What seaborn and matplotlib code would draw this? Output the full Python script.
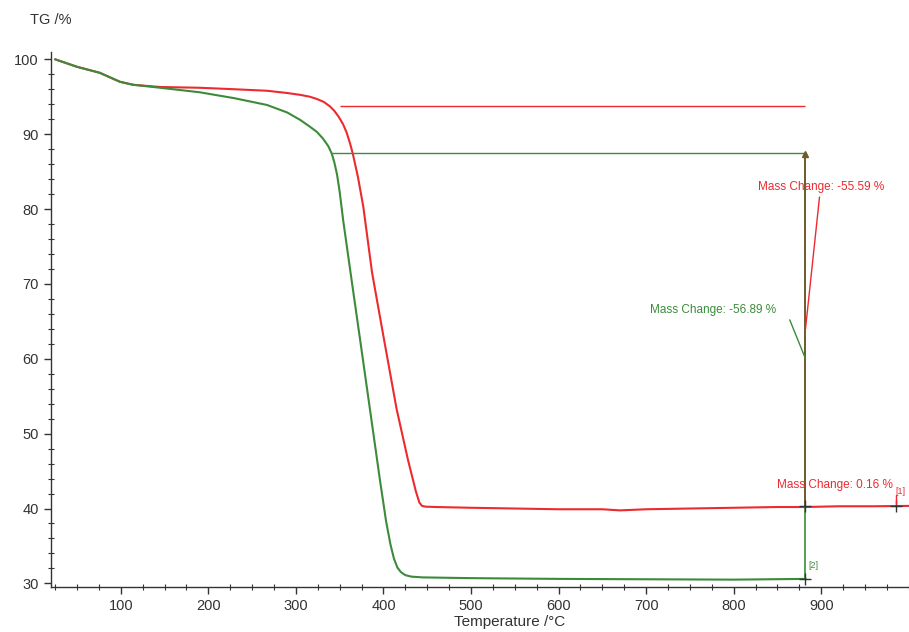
import matplotlib
matplotlib.use("Agg")
import matplotlib.pyplot as plt
from matplotlib.ticker import MultipleLocator
import pandas as pd
import seaborn as sns

# Кривая 1 (красная) — температура, °C и масса, %
temp_red = [25, 50, 76, 99, 114, 145, 190, 230, 267, 290, 305, 316, 324, 332,
            339, 344, 349, 354, 358, 362, 365, 371, 377, 387, 400, 415, 428,
            437, 441, 444, 448, 460, 500, 550, 600, 650, 670, 700, 750, 800,
            850, 882, 920, 960, 1000]
tg_red = [100.0, 99.0, 98.2, 97.0, 96.6, 96.3, 96.2, 96.0, 95.8, 95.5, 95.25,
          95.0, 94.7, 94.3, 93.7, 93.1, 92.3, 91.3, 90.2, 88.7, 87.4, 84.2,
          80.3, 71.5, 63.0, 53.3, 46.5, 42.3, 40.8, 40.35, 40.25, 40.2, 40.1,
          40.0, 39.9, 39.9, 39.75, 39.9, 40.0, 40.1, 40.2, 40.2, 40.3, 40.3,
          40.35]

# Кривая 2 (зелёная)
temp_green = [25, 50, 76, 99, 114, 145, 190, 230, 267, 290, 305, 316, 324, 331,
              337, 341, 344, 347, 350, 354, 364, 374, 385, 396, 403, 408, 412,
              416, 420, 425, 432, 445, 500, 600, 700, 800, 882]
tg_green = [100.0, 99.0, 98.2, 97.0, 96.6, 96.2, 95.6, 94.8, 93.9, 92.9, 91.9,
            91.0, 90.3, 89.4, 88.4, 87.4, 86.2, 84.6, 82.3, 78.5, 70.2, 62.0,
            52.9, 43.8, 38.3, 35.2, 33.3, 32.1, 31.5, 31.1, 30.9, 30.8, 30.7,
            30.6, 30.55, 30.5, 30.6]

RED = "#ec2a2f"
GREEN = "#3b8b3b"
DARK = "#333333"

# Ступени (уровни до/после и точка измерения)
step_red = (350, 882, 93.8)
step_green = (341, 882, 87.5)
t_mark = 882

df = pd.concat([
    pd.DataFrame({"T": temp_red, "TG": tg_red, "curve": "1"}),
    pd.DataFrame({"T": temp_green, "TG": tg_green, "curve": "2"}),
])

sns.set_style("ticks")
plt.rcParams["font.family"] = ["Liberation Sans", "DejaVu Sans"]

fig = plt.figure(figsize=(9.09, 6.32), dpi=100)
ax = fig.add_axes([0.0558, 0.071, 0.944, 0.847])

sns.lineplot(data=df, x="T", y="TG", hue="curve", sort=False,
             palette={"1": RED, "2": GREEN}, linewidth=1.5, legend=False, ax=ax)

# горизонтальные уровни
ax.hlines(step_red[2], step_red[0], step_red[1], color=RED, lw=1.0)
ax.hlines(step_green[2], step_green[0], step_green[1], color=GREEN, lw=1.0)

# вертикальная линия измерения
ax.vlines(t_mark, 30.6, 40.3, color=GREEN, lw=1.2)
ax.vlines(t_mark, 40.3, 87.5, color="#6e5a2a", lw=1.4)
ax.plot([t_mark], [87.3], marker="^", ms=4, color="#6e5a2a")
ax.plot([t_mark, 985], [40.3, 40.3], ls="none", marker="+", ms=8,
        mew=1.0, color=DARK)
ax.plot([t_mark], [30.6], marker="+", ms=8, mew=1.0, color=DARK)

# выноски
ax.plot([898, t_mark], [81.6, 64.0], color=RED, lw=1.0)
ax.plot([864, t_mark], [65.2, 60.0], color=GREEN, lw=1.0)
ax.plot([985, 985], [40.6, 41.8], color=RED, lw=1.0)

ax.text(900, 82.9, "Mass Change: -55.59 %", color=RED, fontsize=8.5,
        ha="center", va="center")
ax.text(777, 66.5, "Mass Change: -56.89 %", color=GREEN, fontsize=8.5,
        ha="center", va="center")
ax.text(982, 43.1, "Mass Change: 0.16 %", color=RED, fontsize=8.5,
        ha="right", va="center")
ax.text(885, 32.4, "[2]", color=GREEN, fontsize=6.5, ha="left", va="center")
ax.text(985, 42.3, "[1]", color=RED, fontsize=6.5, ha="left", va="center")

ax.set_xlim(20, 1000)
ax.set_ylim(29.5, 101)
ax.xaxis.set_major_locator(MultipleLocator(100))
ax.xaxis.set_minor_locator(MultipleLocator(25))
ax.yaxis.set_major_locator(MultipleLocator(10))
ax.yaxis.set_minor_locator(MultipleLocator(2))
ax.set_xticks(range(100, 1000, 100))
ax.tick_params(which="major", direction="out", length=5, width=1,
               color=DARK, labelcolor=DARK, labelsize=10.5)
ax.tick_params(which="minor", direction="inout", length=4, width=0.8,
               color=DARK)
for side in ("top", "right"):
    ax.spines[side].set_visible(False)
for side in ("left", "bottom"):
    ax.spines[side].set_color(DARK)
    ax.spines[side].set_linewidth(1.0)

ax.set_xlabel("Temperature /°C", fontsize=11, color=DARK, labelpad=0)
ax.xaxis.set_label_coords(0.535, -0.052)
ax.set_ylabel("")
fig.text(30 / 909, 1 - 20 / 632, "TG /%", fontsize=10.5, color=DARK,
         ha="left", va="center")

fig.savefig("out.png", dpi=100)
